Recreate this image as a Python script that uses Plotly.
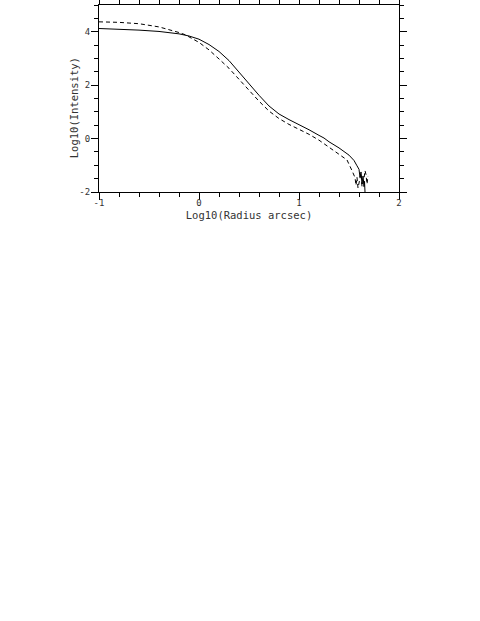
import plotly.graph_objects as go

# Solid profile (Log10 radius, Log10 intensity)
solid_x = [-1.0, -0.8, -0.6, -0.4, -0.2, -0.1, 0.0, 0.1, 0.2, 0.3, 0.4, 0.5, 0.6, 0.7,
           0.8, 0.9, 1.0, 1.1, 1.2, 1.25, 1.3, 1.4, 1.5, 1.55, 1.58, 1.60, 1.61, 1.62,
           1.63, 1.64, 1.65, 1.655, 1.66]
solid_y = [4.12, 4.10, 4.06, 4.01, 3.92, 3.84, 3.72, 3.52, 3.26, 2.92, 2.48, 2.05, 1.62, 1.22,
           0.92, 0.71, 0.53, 0.33, 0.12, 0.02, -0.12, -0.35, -0.62, -0.82, -1.02, -1.15,
           -1.45, -1.25, -1.70, -1.40, -1.80, -1.60, -2.0]

# Dashed profile
dash_x = [-1.0, -0.8, -0.6, -0.4, -0.2, -0.14, 0.0, 0.1, 0.2, 0.3, 0.4, 0.5, 0.6, 0.7,
          0.8, 0.9, 1.0, 1.1, 1.2, 1.3, 1.4, 1.48, 1.53, 1.56, 1.57, 1.58, 1.59, 1.61,
          1.62, 1.63, 1.65, 1.66, 1.67, 1.68, 1.69]
dash_y = [4.37, 4.35, 4.30, 4.18, 3.97, 3.89, 3.60, 3.32, 2.98, 2.63, 2.22, 1.80, 1.40, 1.03,
          0.75, 0.53, 0.36, 0.16, -0.06, -0.33, -0.60, -0.80, -1.20, -1.46, -1.75, -1.45,
          -1.85, -1.55, -1.30, -1.80, -1.50, -1.20, -1.35, -1.70, -1.40]

x_tick_vals = [-1, 0, 1, 2]
x_tick_labels = ["-1", "0", "1", "2"]
y_tick_vals = [-2, 0, 2, 4]
y_tick_labels = ["-2", "0", "2", "4"]

FONT = "DejaVu Sans Mono"
TXT = "#333333"

fig = go.Figure()
fig.add_trace(go.Scatter(x=solid_x, y=solid_y, mode="lines",
                         line=dict(color="black", width=1), showlegend=False))
fig.add_trace(go.Scatter(x=dash_x, y=dash_y, mode="lines",
                         line=dict(color="black", width=1, dash="4px,3px"), showlegend=False))

axis_common = dict(showgrid=False, zeroline=False, showline=True, linecolor="black",
                   linewidth=1, mirror="ticks", ticks="outside", ticklen=7,
                   tickcolor="black", tickwidth=1,
                   tickfont=dict(family=FONT, size=9, color=TXT))

fig.update_xaxes(range=[-1, 2], tickvals=x_tick_vals, ticktext=x_tick_labels,
                 ticklabelstandoff=-5,
                 minor=dict(dtick=0.2, ticks="outside", ticklen=4, tickcolor="black"),
                 title=dict(text="Log10(Radius arcsec)", font=dict(family=FONT, size=10.5, color=TXT),
                            standoff=4),
                 **axis_common)
fig.update_yaxes(range=[-2, 5], tickvals=y_tick_vals, ticktext=y_tick_labels,
                 ticklabelstandoff=-1,
                 minor=dict(dtick=0.5, ticks="outside", ticklen=4, tickcolor="black"),
                 **axis_common)

fig.add_annotation(text="Log10(Intensity)", xref="paper", yref="paper", x=0, y=0.448,
                   xshift=-25, xanchor="center", yanchor="middle", textangle=-90,
                   showarrow=False, font=dict(family=FONT, size=10.5, color=TXT))

fig.update_layout(width=480, height=621, margin=dict(l=99, r=81, t=5, b=429, autoexpand=False),
                  paper_bgcolor="white", plot_bgcolor="white")

fig.write_html("out.html", config={"displayModeBar": False},
               post_script="document.body.style.margin='0px';")
